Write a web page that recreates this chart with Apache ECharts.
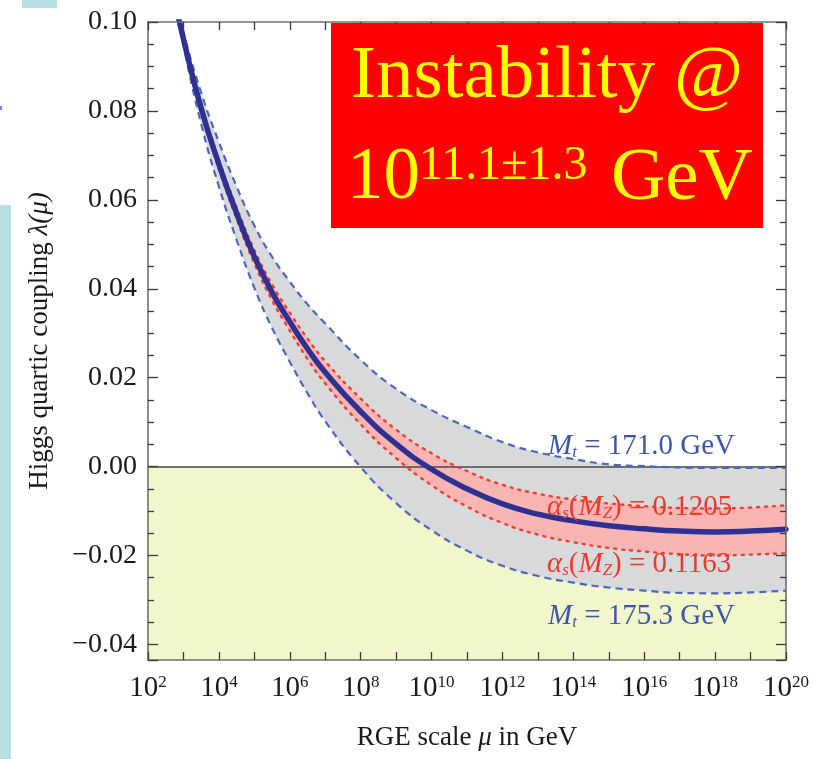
<!DOCTYPE html>
<html>
<head>
<meta charset="UTF-8">
<title>Higgs quartic coupling</title>
<style>
html,body{margin:0;padding:0;background:#fff;}
#main{width:823px;height:759px;}
</style>
</head>
<body>
<div id="main"></div>
<script src="https://cdn.jsdelivr.net/npm/echarts@6/dist/echarts.min.js"></script>
<script>
// x = log10(mu / GeV)
var muExp = [2.5, 3, 3.5, 4, 4.5, 5, 5.5, 6, 6.5, 7, 8, 9, 10, 11, 12, 13, 14, 15, 16, 17, 18, 19, 20];
// central lambda(mu)
var lambdaCentral = [0.114, 0.0962, 0.0806, 0.0680, 0.0570, 0.0472, 0.0392, 0.0326, 0.0265, 0.0212, 0.0124, 0.0051, -0.0006, -0.0050, -0.0084, -0.0107, -0.0122, -0.0133, -0.0140, -0.0145, -0.0147, -0.0145, -0.0141];
// Mt = 171.0 GeV (upper dashed)
var lambdaMt171 = [0.114, 0.0977, 0.0841, 0.0730, 0.0630, 0.0542, 0.0472, 0.0416, 0.0365, 0.0322, 0.0240, 0.0175, 0.0127, 0.0089, 0.0055, 0.0032, 0.0017, 0.0005, 0.0001, -0.0002, -0.0003, -0.0003, -0.0003];
// Mt = 175.3 GeV (lower dashed)
var lambdaMt175 = [0.114, 0.0947, 0.0771, 0.0630, 0.0510, 0.0402, 0.0312, 0.0236, 0.0165, 0.0102, -0.0001, -0.0082, -0.0143, -0.0189, -0.0223, -0.0246, -0.0261, -0.0272, -0.0279, -0.0284, -0.0285, -0.0283, -0.0279];
// alpha_s(MZ) = 0.1205 / 0.1163 (red dotted)
var lambdaAs1205 = [0.114, 0.0967, 0.0814, 0.0690, 0.0583, 0.0487, 0.0410, 0.0346, 0.0288, 0.0237, 0.0153, 0.0083, 0.0030, -0.0010, -0.0041, -0.0061, -0.0074, -0.0083, -0.0089, -0.0093, -0.0094, -0.0092, -0.0087];
var lambdaAs1163 = [0.114, 0.0957, 0.0798, 0.0670, 0.0557, 0.0457, 0.0374, 0.0306, 0.0242, 0.0187, 0.0095, 0.0019, -0.0042, -0.0090, -0.0127, -0.0153, -0.0170, -0.0183, -0.0191, -0.0197, -0.0200, -0.0198, -0.0195];

var xLabelExp = [2, 4, 6, 8, 10, 12, 14, 16, 18, 20];
var xMin = 2, xMax = 20;
var yMin = -0.0435, yMax = 0.10;

var serif = '"Liberation Serif", "DejaVu Serif", serif';
var SMOOTH = 0.5;

// points stored as [lambda, exp] so that a stack adds up lambda, not the exponent
function pts(ys) {
	return muExp.map(function (e, i) { return [ys[i], e]; });
}
function gap(top, bottom) {
	return muExp.map(function (e, i) { return [+(top[i] - bottom[i]).toFixed(5), e]; });
}
var enc = { x: 1, y: 0 };

var myChart = echarts.init(document.getElementById('main'));

var axisLineStyle = { color: '#707070', width: 1.6 };
var tickStyle = { color: '#3a3a3a', width: 1.3 };

function curve(name, ys, z, lineStyle) {
	return {
		name: name, type: 'line', data: pts(ys), encode: enc,
		smooth: SMOOTH, symbol: 'none', z: z, lineStyle: lineStyle
	};
}
function bandBase(stack, ys, z) {
	return {
		type: 'line', stack: stack, stackStrategy: 'all', data: pts(ys), encode: enc,
		smooth: SMOOTH, symbol: 'none', silent: true, z: z,
		lineStyle: { opacity: 0 }
	};
}
function bandFill(stack, top, bottom, z, color) {
	return {
		type: 'line', stack: stack, stackStrategy: 'all', data: gap(top, bottom), encode: enc,
		smooth: SMOOTH, symbol: 'none', silent: true, z: z,
		lineStyle: { opacity: 0 },
		areaStyle: { color: color, opacity: 1 }
	};
}

var option = {
	backgroundColor: '#fff',
	animation: false,
	grid: { left: 148, right: 37, top: 22, bottom: 99 },
	xAxis: [{
		type: 'value', min: xMin, max: xMax, interval: 1, position: 'bottom', z: 10,
		axisLine: { show: true, onZero: false, lineStyle: axisLineStyle },
		axisTick: { show: true, inside: true, length: 8, lineStyle: tickStyle },
		splitLine: { show: false },
		axisLabel: {
			margin: 14,
			formatter: function (v) {
				return xLabelExp.indexOf(v) >= 0 ? '{b|10}{s|' + v + '}' : '';
			},
			rich: {
				b: { fontFamily: serif, fontSize: 29, color: '#1a1a1a' },
				s: { fontFamily: serif, fontSize: 17, color: '#1a1a1a', verticalAlign: 'top' }
			}
		},
		name: '{n|RGE scale }{i|μ}{n| in GeV}',
		nameLocation: 'middle',
		nameGap: 64,
		nameTextStyle: {
			rich: {
				n: { fontFamily: serif, fontSize: 27, color: '#1a1a1a' },
				i: { fontFamily: serif, fontSize: 27, fontStyle: 'italic', color: '#1a1a1a' }
			}
		}
	}, {
		type: 'value', min: xMin, max: xMax, interval: 1, position: 'top', z: 10,
		axisLine: { show: true, onZero: false, lineStyle: axisLineStyle },
		axisTick: { show: true, inside: true, length: 8, lineStyle: tickStyle },
		axisLabel: { show: false },
		splitLine: { show: false }
	}],
	yAxis: [{
		type: 'value', min: yMin, max: yMax, splitNumber: 7, position: 'left', z: 10,
		axisLine: { show: true, onZero: false, lineStyle: axisLineStyle },
		axisTick: { show: true, inside: true, length: 10, lineStyle: tickStyle },
		minorTick: { show: true, splitNumber: 4, length: 6, lineStyle: tickStyle },
		splitLine: { show: false },
		axisLabel: {
			margin: 11, showMinLabel: false,
			fontFamily: serif, fontSize: 28, color: '#1a1a1a',
			formatter: function (v) {
				var s = Math.abs(v).toFixed(2);
				return v < -1e-9 ? '\u2212' + s : s;
			}
		},
		name: '{n|Higgs quartic coupling }{i|λ(μ)}',
		nameLocation: 'middle',
		nameGap: 95,
		nameTextStyle: {
			rich: {
				n: { fontFamily: serif, fontSize: 27, color: '#1a1a1a' },
				i: { fontFamily: serif, fontSize: 27, fontStyle: 'italic', color: '#1a1a1a' }
			}
		}
	}, {
		type: 'value', min: yMin, max: yMax, splitNumber: 7, position: 'right', z: 10,
		axisLine: { show: true, onZero: false, lineStyle: axisLineStyle },
		axisTick: { show: true, inside: true, length: 10, lineStyle: tickStyle },
		minorTick: { show: true, splitNumber: 4, length: 6, lineStyle: tickStyle },
		splitLine: { show: false },
		axisLabel: { show: false }
	}],
	series: [
		{
			// unstable region below lambda = 0
			type: 'line', data: [], z: 1, silent: true,
			markArea: {
				silent: true,
				itemStyle: { color: '#f1f6cb' },
				data: [[{ yAxis: 0 }, { yAxis: yMin }]]
			}
		},
		bandBase('mt', lambdaMt175, 2),
		bandFill('mt', lambdaMt171, lambdaMt175, 2, '#d8d9da'),
		bandBase('as', lambdaAs1163, 3),
		bandFill('as', lambdaAs1205, lambdaAs1163, 3, '#f8b5b3'),
		{
			// lambda = 0 line
			type: 'line', data: [], z: 4, silent: true,
			markLine: {
				silent: true, symbol: 'none', label: { show: false },
				lineStyle: { color: '#4a4a4a', width: 1.6, type: 'solid' },
				data: [{ yAxis: 0 }]
			}
		},
		curve('Mt 171.0', lambdaMt171, 5, { color: '#4d67bd', width: 2.2, type: [7, 5] }),
		curve('Mt 175.3', lambdaMt175, 5, { color: '#4d67bd', width: 2.2, type: [7, 5] }),
		curve('as 0.1205', lambdaAs1205, 6, { color: '#ef3d2e', width: 2.4, type: [2, 6], cap: 'round' }),
		curve('as 0.1163', lambdaAs1163, 6, { color: '#ef3d2e', width: 2.4, type: [2, 6], cap: 'round' }),
		curve('central', lambdaCentral, 7, { color: '#2e3192', width: 5.5, cap: 'round' })
	],
	graphic: [
		{ type: 'rect', shape: { x: 22, y: 0, width: 35, height: 8 }, style: { fill: '#b8dfe3' }, z: 50 },
		{ type: 'rect', shape: { x: 0, y: 205, width: 11, height: 554 }, style: { fill: '#b8dfe3' }, z: 50 },
		{ type: 'rect', shape: { x: 0, y: 106, width: 2, height: 4 }, style: { fill: '#7b7bff' }, z: 50 },
		{
			type: 'text', left: 548, top: 448 - 16, z: 60,
			style: {
				text: '{i|M}{sub|t}{n| = 171.0 GeV}',
				rich: {
					i: { fontFamily: serif, fontSize: 29, fontStyle: 'italic', fill: '#3d56a6' },
					sub: { fontFamily: serif, fontSize: 17, fontStyle: 'italic', fill: '#3d56a6', verticalAlign: 'bottom' },
					n: { fontFamily: serif, fontSize: 29, fill: '#3d56a6' }
				}
			}
		},
		{
			type: 'text', left: 548, top: 618 - 16, z: 60,
			style: {
				text: '{i|M}{sub|t}{n| = 175.3 GeV}',
				rich: {
					i: { fontFamily: serif, fontSize: 29, fontStyle: 'italic', fill: '#3d56a6' },
					sub: { fontFamily: serif, fontSize: 17, fontStyle: 'italic', fill: '#3d56a6', verticalAlign: 'bottom' },
					n: { fontFamily: serif, fontSize: 29, fill: '#3d56a6' }
				}
			}
		},
		{
			type: 'text', left: 547, top: 509 - 16, z: 60,
			style: {
				text: '{i|α}{sub|s}{n|(}{i|M}{sub|Z}{n|) = 0.1205}',
				rich: {
					i: { fontFamily: serif, fontSize: 29, fontStyle: 'italic', fill: '#ea3a2c' },
					sub: { fontFamily: serif, fontSize: 17, fontStyle: 'italic', fill: '#ea3a2c', verticalAlign: 'bottom' },
					n: { fontFamily: serif, fontSize: 29, fill: '#ea3a2c' }
				}
			}
		},
		{
			type: 'text', left: 547, top: 566 - 16, z: 60,
			style: {
				text: '{i|α}{sub|s}{n|(}{i|M}{sub|Z}{n|) = 0.1163}',
				rich: {
					i: { fontFamily: serif, fontSize: 29, fontStyle: 'italic', fill: '#ea3a2c' },
					sub: { fontFamily: serif, fontSize: 17, fontStyle: 'italic', fill: '#ea3a2c', verticalAlign: 'bottom' },
					n: { fontFamily: serif, fontSize: 29, fill: '#ea3a2c' }
				}
			}
		},
		{ type: 'rect', shape: { x: 331, y: 23, width: 432, height: 205 }, style: { fill: '#ff0000' }, z: 100 },
		{
			type: 'text', x: 351, y: 77, z: 101,
			style: { text: 'Instability @', fontFamily: serif, fontSize: 75, fill: '#ffff00', verticalAlign: 'middle' }
		},
		{
			type: 'text', x: 347, y: 179, z: 101,
			style: { text: '10', fontFamily: serif, fontSize: 73, fill: '#ffff00', verticalAlign: 'middle' }
		},
		{
			type: 'text', x: 419, y: 166, z: 101,
			style: { text: '11.1±1.3', fontFamily: serif, fontSize: 48, fill: '#ffff00', verticalAlign: 'middle' }
		},
		{
			type: 'text', x: 611, y: 179, z: 101,
			style: { text: 'GeV', fontFamily: serif, fontSize: 75, fill: '#ffff00', verticalAlign: 'middle' }
		}
	]
};
myChart.setOption(option);
</script>
</body>
</html>
